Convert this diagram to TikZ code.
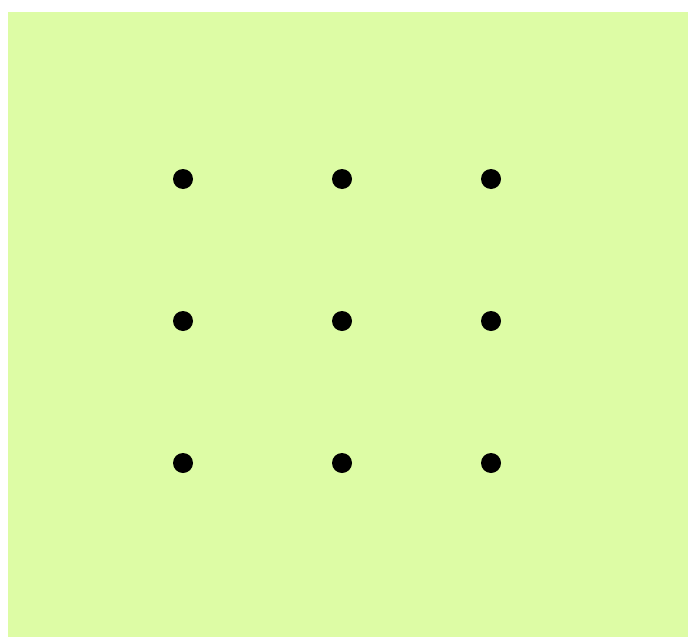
\documentclass[tikz,border=0pt]{standalone}
\usepackage{tikz}
\usetikzlibrary{positioning}
\definecolor{paper}{RGB}{221,252,165}

\begin{document}
\begin{tikzpicture}[
  x=1pt, y=-1pt,
  dot/.style={circle, fill=black, inner sep=0pt, minimum size=20pt}
]
  \useasboundingbox (0,0) rectangle (688,637);
  \fill[paper] (8,12) rectangle (688,637);

  \foreach \col/\xx in {1/183, 2/342, 3/491}
    \foreach \row/\yy in {1/179, 2/321, 3/463}
      \node[dot] (d\row\col) at (\xx,\yy) {};
\end{tikzpicture}
\end{document}
